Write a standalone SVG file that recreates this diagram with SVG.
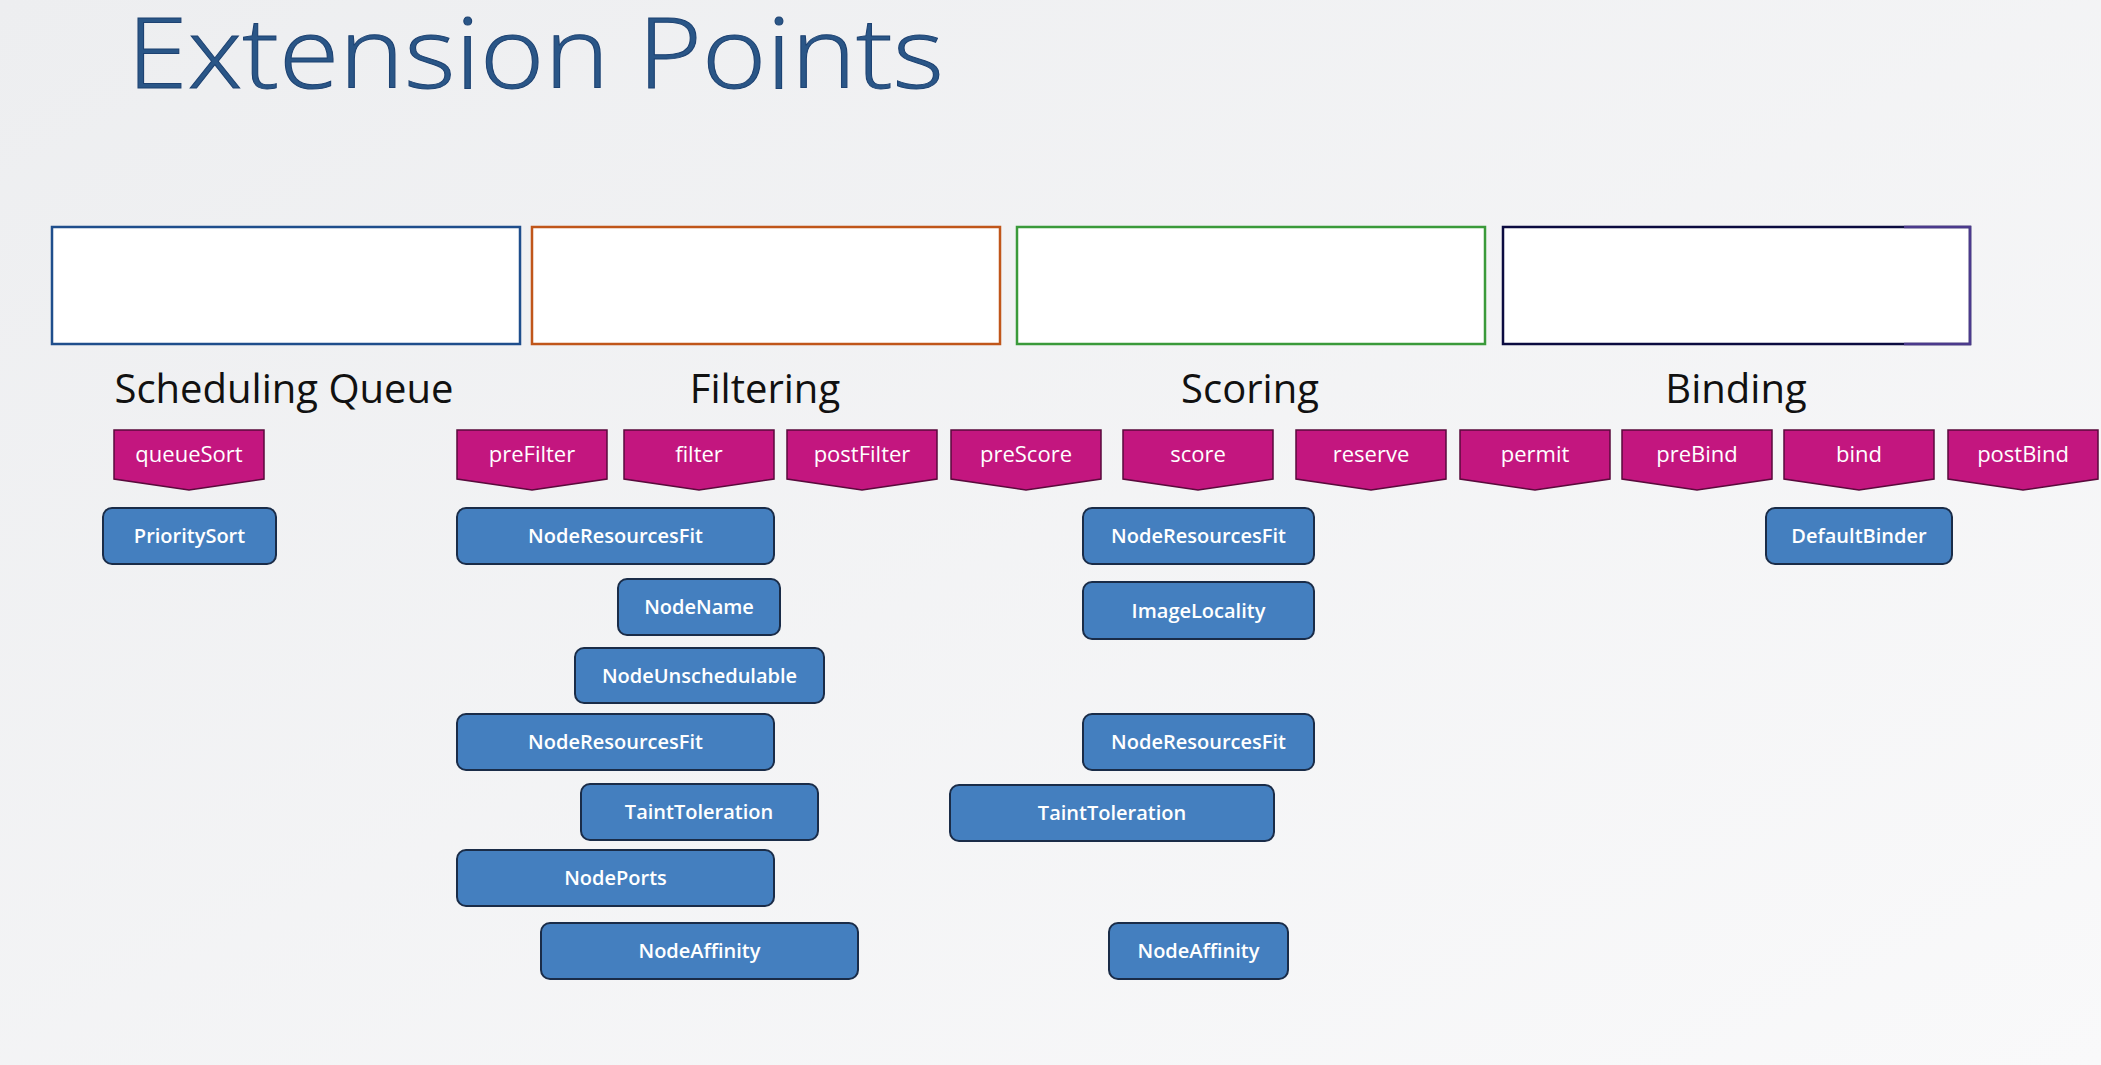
<svg xmlns="http://www.w3.org/2000/svg" width="2101" height="1065" viewBox="0 0 2101 1065">
<defs>
<linearGradient id="bg" x1="0" y1="0" x2="1" y2="1">
<stop offset="0" stop-color="#EDEEF0"/>
<stop offset="1" stop-color="#F9F9FA"/>
</linearGradient>
<style>
.title{font-family:"Open Sans","Noto Sans",sans-serif;font-weight:300;font-size:98px;fill:#2A5687;stroke:#1D4272;stroke-width:1}
.phase{fill:#FFFFFF;stroke-width:2.5}
.lbl{font-family:"Open Sans","Noto Sans",sans-serif;font-size:40px;fill:#111111;text-anchor:middle}
.chev{fill:#C3167F;stroke:#5A0A3C;stroke-width:1.5}
.ct{font-family:"Open Sans","Noto Sans",sans-serif;font-size:22px;fill:#FFFFFF;text-anchor:middle}
.pl{fill:#447FBF;stroke:#1A2C48;stroke-width:2}
.pt{font-family:"Open Sans","Noto Sans",sans-serif;font-size:20px;font-weight:600;fill:#FFFFFF;text-anchor:middle}
</style>
</defs>
<rect x="0" y="0" width="2101" height="1065" fill="url(#bg)"/>
<text class="title" x="127" y="88" textLength="817" lengthAdjust="spacingAndGlyphs">Extension Points</text>

<g id="phase-queue"><rect class="phase" x="52" y="227" width="468" height="117" stroke="#1F4E8C"/></g>
<g id="phase-filter"><rect class="phase" x="532" y="227" width="468" height="117" stroke="#C0561A"/></g>
<g id="phase-score"><rect class="phase" x="1017" y="227" width="468" height="117" stroke="#3A9A3A"/></g>
<g id="phase-bind"><rect class="phase" x="1503" y="227" width="467" height="117" stroke="#0B0B40"/>
<polyline points="1904,227 1970,227 1970,344 1904,344" fill="none" stroke="#4B3A8C" stroke-width="2.5"/></g>

<g id="labels">
<text class="lbl" x="284" y="403">Scheduling Queue</text>
<text class="lbl" x="765" y="403">Filtering</text>
<text class="lbl" x="1250" y="403">Scoring</text>
<text class="lbl" x="1736" y="403">Binding</text>
</g>

<g id="ep-queueSort"><polygon class="chev" points="114,430 264,430 264,479 189,490 114,479"/><text class="ct" x="189" y="462">queueSort</text></g>
<g id="ep-preFilter"><polygon class="chev" points="457,430 607,430 607,479 532,490 457,479"/><text class="ct" x="532" y="462">preFilter</text></g>
<g id="ep-filter"><polygon class="chev" points="624,430 774,430 774,479 699,490 624,479"/><text class="ct" x="699" y="462">filter</text></g>
<g id="ep-postFilter"><polygon class="chev" points="787,430 937,430 937,479 862,490 787,479"/><text class="ct" x="862" y="462">postFilter</text></g>
<g id="ep-preScore"><polygon class="chev" points="951,430 1101,430 1101,479 1026,490 951,479"/><text class="ct" x="1026" y="462">preScore</text></g>
<g id="ep-score"><polygon class="chev" points="1123,430 1273,430 1273,479 1198,490 1123,479"/><text class="ct" x="1198" y="462">score</text></g>
<g id="ep-reserve"><polygon class="chev" points="1296,430 1446,430 1446,479 1371,490 1296,479"/><text class="ct" x="1371" y="462">reserve</text></g>
<g id="ep-permit"><polygon class="chev" points="1460,430 1610,430 1610,479 1535,490 1460,479"/><text class="ct" x="1535" y="462">permit</text></g>
<g id="ep-preBind"><polygon class="chev" points="1622,430 1772,430 1772,479 1697,490 1622,479"/><text class="ct" x="1697" y="462">preBind</text></g>
<g id="ep-bind"><polygon class="chev" points="1784,430 1934,430 1934,479 1859,490 1784,479"/><text class="ct" x="1859" y="462">bind</text></g>
<g id="ep-postBind"><polygon class="chev" points="1948,430 2098,430 2098,479 2023,490 1948,479"/><text class="ct" x="2023" y="462">postBind</text></g>

<g id="pl-PrioritySort"><rect class="pl" x="103" y="508" width="173" height="56" rx="9"/><text class="pt" x="189.5" y="543">PrioritySort</text></g>
<g id="pl-f-NodeResourcesFit1"><rect class="pl" x="457" y="508" width="317" height="56" rx="9"/><text class="pt" x="615.5" y="543">NodeResourcesFit</text></g>
<g id="pl-f-NodeName"><rect class="pl" x="618" y="579" width="162" height="56" rx="9"/><text class="pt" x="699" y="614">NodeName</text></g>
<g id="pl-f-NodeUnschedulable"><rect class="pl" x="575" y="648" width="249" height="55" rx="9"/><text class="pt" x="699.5" y="683">NodeUnschedulable</text></g>
<g id="pl-f-NodeResourcesFit2"><rect class="pl" x="457" y="714" width="317" height="56" rx="9"/><text class="pt" x="615.5" y="749">NodeResourcesFit</text></g>
<g id="pl-f-TaintToleration"><rect class="pl" x="581" y="784" width="237" height="56" rx="9"/><text class="pt" x="699" y="819">TaintToleration</text></g>
<g id="pl-f-NodePorts"><rect class="pl" x="457" y="850" width="317" height="56" rx="9"/><text class="pt" x="615.5" y="885">NodePorts</text></g>
<g id="pl-f-NodeAffinity"><rect class="pl" x="541" y="923" width="317" height="56" rx="9"/><text class="pt" x="699.5" y="958">NodeAffinity</text></g>

<g id="pl-s-NodeResourcesFit1"><rect class="pl" x="1083" y="508" width="231" height="56" rx="9"/><text class="pt" x="1198.5" y="543">NodeResourcesFit</text></g>
<g id="pl-s-ImageLocality"><rect class="pl" x="1083" y="582" width="231" height="57" rx="9"/><text class="pt" x="1198.5" y="618">ImageLocality</text></g>
<g id="pl-s-NodeResourcesFit2"><rect class="pl" x="1083" y="714" width="231" height="56" rx="9"/><text class="pt" x="1198.5" y="749">NodeResourcesFit</text></g>
<g id="pl-s-TaintToleration"><rect class="pl" x="950" y="785" width="324" height="56" rx="9"/><text class="pt" x="1112" y="820">TaintToleration</text></g>
<g id="pl-s-NodeAffinity"><rect class="pl" x="1109" y="923" width="179" height="56" rx="9"/><text class="pt" x="1198.5" y="958">NodeAffinity</text></g>

<g id="pl-DefaultBinder"><rect class="pl" x="1766" y="508" width="186" height="56" rx="9"/><text class="pt" x="1859" y="543">DefaultBinder</text></g>

<g id="connectors"></g>
</svg>
